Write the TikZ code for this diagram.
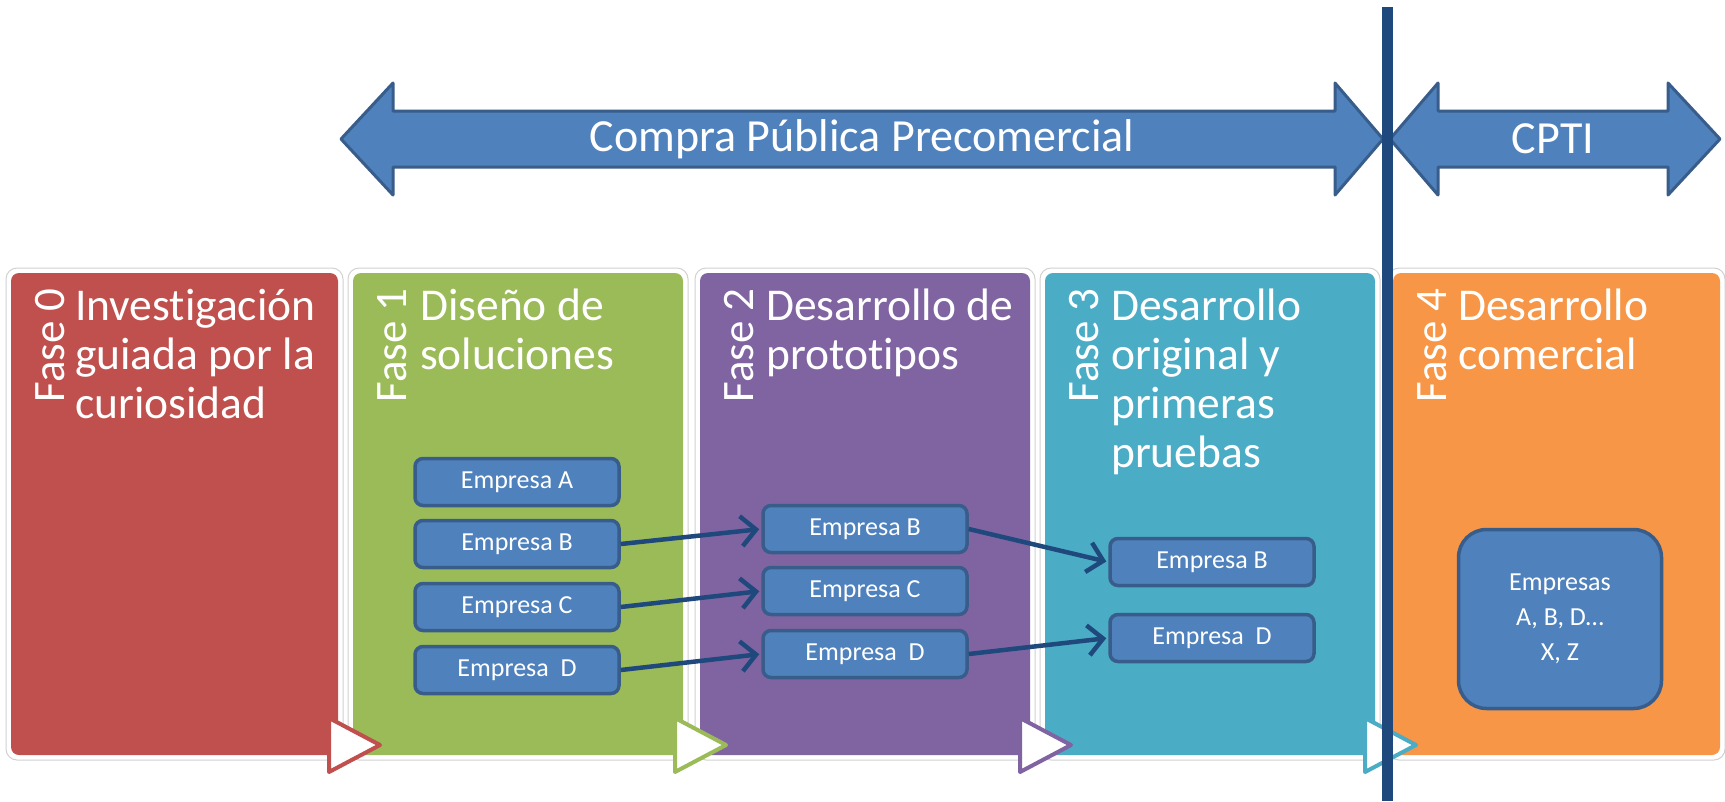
\documentclass[tikz,border=0pt]{standalone}
\usepackage{fontspec}
\setmainfont{Carlito}[Ligatures=NoCommon]
\usetikzlibrary{arrows.meta}
\definecolor{pred}{HTML}{C0504D}
\definecolor{pgreen}{HTML}{9BBB59}
\definecolor{ppurple}{HTML}{8064A2}
\definecolor{pcyan}{HTML}{4BACC6}
\definecolor{porange}{HTML}{F79646}
\definecolor{bfill}{HTML}{4F81BD}
\definecolor{bline}{HTML}{385D8A}
\definecolor{dblue}{HTML}{1F497D}
\begin{document}
\begin{tikzpicture}[x=1pt,y=-1pt,
  panelframe/.style={fill=white, draw=black!18, line width=1pt, rounded corners=11pt},
  panel/.style={fill=#1, draw=none, rounded corners=8pt},
  title/.style={anchor=north west, inner sep=0pt, align=left, text=white, font=\fontsize{45.5}{49}\selectfont},
  faselabel/.style={rotate=90, anchor=base east, inner sep=0pt, text=white, font=\fontsize{45}{48}\selectfont},
  empresa/.style={draw=bline, fill=bfill, line width=3.5pt, rounded corners=8pt, minimum width=204pt, minimum height=47pt, inner sep=0pt, text=white, font=\fontsize{26}{30}\selectfont},
  link/.style={draw=dblue, line width=4.5pt, shorten >=2pt, -{Straight Barb[length=15pt,width=30pt]}},
  tri/.style={fill=white, draw=#1, line width=4pt, line join=round},
  bigarrow/.style={fill=bfill, draw=bline, line width=3pt, line join=round},
  arrowtext/.style={text=white, font=\fontsize{46}{50}\selectfont, inner sep=0pt}
]
\useasboundingbox (0,0) rectangle (1725,801);
\fill[white] (0,0) rectangle (1725,801);

% big arrows
\draw[bigarrow] (341,139) -- (393,83) -- (393,111) -- (1335,111) -- (1335,83) -- (1383,139) -- (1335,195) -- (1335,167) -- (393,167) -- (393,195) -- cycle;
\node[arrowtext] (cpp) at (862,139) {Compra Pública Precomercial};
\draw[bigarrow] (1390,139) -- (1438,83) -- (1438,111) -- (1668,111) -- (1668,83) -- (1720,139) -- (1668,195) -- (1668,167) -- (1438,167) -- (1438,195) -- cycle;
\node[arrowtext] (cpti) at (1553,139) {CPTI};

% panels
\foreach \l/\r/\c in {11/338/pred, 353/683/pgreen, 700/1030/ppurple, 1045/1375/pcyan, 1393/1720/porange}{
  \draw[panelframe] (\l-5,268) rectangle (\r+5,760);
  \fill[panel=\c] (\l,273) rectangle (\r,755);
}

% phase labels
\node[faselabel] (f0) at (64,288) {Fase 0};
\node[faselabel] (f1) at (406,288) {Fase 1};
\node[faselabel] (f2) at (753,288) {Fase 2};
\node[faselabel] (f3) at (1098,288) {Fase 3};
\node[faselabel] (f4) at (1446,288) {Fase 4};

\node[title] (t0) at (75,286) {\rule{0pt}{34pt}Investigación\\guiada por la\\curiosidad};
\node[title] (t1) at (420,286) {\rule{0pt}{34pt}Diseño de\\soluciones};
\node[title] (t2) at (766,286) {\rule{0pt}{34pt}Desarrollo de\\prototipos};
\node[title] (t3) at (1111,286) {\rule{0pt}{34pt}Desarrollo\\original y\\primeras\\pruebas};
\node[title] (t4) at (1458,286) {\rule{0pt}{34pt}Desarrollo\\comercial};

% triangles
\draw[tri=pred] (329,718) -- (380,745) -- (329,772) -- cycle;
\draw[tri=pgreen] (675,718) -- (726,745) -- (675,772) -- cycle;
\draw[tri=ppurple] (1020,718) -- (1071,745) -- (1020,772) -- cycle;
\draw[tri=pcyan] (1365,718) -- (1416,745) -- (1365,772) -- cycle;

% company boxes
\node[empresa] (a1) at (517,482) {Empresa A};
\node[empresa] (b1) at (517,544) {Empresa B};
\node[empresa] (c1) at (517,607) {Empresa C};
\node[empresa] (d1) at (517,670) {Empresa\ \ D};

\node[empresa] (b2) at (865,529) {Empresa B};
\node[empresa] (c2) at (865,591) {Empresa C};
\node[empresa] (d2) at (865,654) {Empresa\ \ D};

\node[empresa] (b3) at (1212,562) {Empresa B};
\node[empresa] (d3) at (1212,638) {Empresa\ \ D};

\node[empresa, minimum width=203pt, minimum height=179pt, rounded corners=28pt, align=center, font=\fontsize{26}{35}\selectfont] (all) at (1560,619) {Empresas\\A, B, D…\\X, Z};

% links
\draw[link] (b1.east) -- (b2.west);
\draw[link] (c1.east) -- (c2.west);
\draw[link] (d1.east) -- (d2.west);
\draw[link] (b2.east) -- (b3.west);
\draw[link] (d2.east) -- (d3.west);

% divider
\draw[dblue, line width=11pt] (1387,7) -- (1387,801);
\end{tikzpicture}
\end{document}
